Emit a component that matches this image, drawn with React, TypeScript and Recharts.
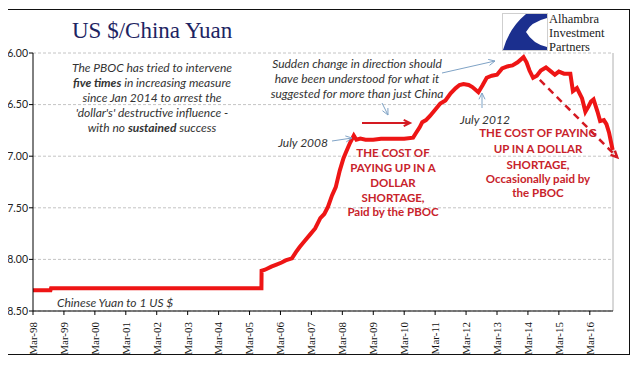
import React from 'react';
import { LineChart, Line, XAxis, YAxis, CartesianGrid, ReferenceLine } from 'recharts';

// daily-ish USD/CNY readings
const dates = [
  '1998-03-01', '1998-09-25', '1998-10-01', '2001-03-01', '2003-03-01', '2005-07-20', '2005-07-22',
  '2005-09-01', '2005-11-15', '2006-01-15', '2006-03-15', '2006-05-01', '2006-07-15', '2006-09-01',
  '2006-10-15', '2006-12-15', '2007-02-15', '2007-04-15', '2007-06-15', '2007-08-01', '2007-09-15',
  '2007-11-01', '2007-12-15', '2008-02-01', '2008-03-15', '2008-04-15', '2008-06-01', '2008-07-15',
  '2008-08-15', '2008-10-01', '2008-12-01', '2009-03-01', '2009-06-01', '2009-09-01', '2009-12-01',
  '2010-03-01', '2010-06-15', '2010-07-15', '2010-09-01', '2010-10-01', '2010-11-15', '2011-01-01',
  '2011-03-01', '2011-05-01', '2011-07-01', '2011-09-01', '2011-11-01', '2011-12-15', '2012-02-01',
  '2012-04-01', '2012-05-15', '2012-07-25', '2012-09-15', '2012-11-01', '2013-01-01', '2013-03-01',
  '2013-05-01', '2013-07-01', '2013-09-01', '2013-11-01', '2014-01-10', '2014-02-15', '2014-03-20',
  '2014-05-01', '2014-06-15', '2014-08-01', '2014-10-01', '2014-12-01', '2015-01-15', '2015-03-01',
  '2015-05-01', '2015-07-15', '2015-08-15', '2015-10-01', '2015-12-01', '2016-01-10', '2016-02-15',
  '2016-03-15', '2016-04-15', '2016-06-01', '2016-07-01', '2016-08-15', '2016-09-15', '2016-10-15',
  '2016-11-15', '2016-11-28',
];
const rates = [
  8.30, 8.30, 8.28, 8.28, 8.28, 8.28, 8.11,
  8.10, 8.07, 8.05, 8.03, 8.01, 7.99, 7.93,
  7.88, 7.82, 7.76, 7.70, 7.60, 7.56, 7.49,
  7.38, 7.30, 7.14, 7.02, 6.96, 6.87, 6.80,
  6.84, 6.83, 6.84, 6.84, 6.83, 6.83, 6.83,
  6.83, 6.82, 6.78, 6.72, 6.67, 6.65, 6.61,
  6.55, 6.49, 6.46, 6.39, 6.34, 6.31, 6.30,
  6.31, 6.33, 6.38, 6.31, 6.24, 6.22, 6.21,
  6.15, 6.13, 6.12, 6.09, 6.04, 6.09, 6.17,
  6.24, 6.22, 6.17, 6.14, 6.18, 6.21, 6.18,
  6.20, 6.20, 6.37, 6.34, 6.44, 6.57, 6.52,
  6.47, 6.45, 6.57, 6.66, 6.65, 6.69, 6.77,
  6.89, 6.94,
];

const yTicks = [6, 6.5, 7, 7.5, 8, 8.5];
const tickYears = ['98', '99', '00', '01', '02', '03', '04', '05', '06', '07', '08', '09', '10', '11', '12', '13', '14', '15', '16'];

// dashed "trend" arrow, in data terms (date, rate)
const trendStart = { date: '2014-07-20', rate: 6.26 };
const trendEnd = { date: '2017-01-20', rate: 7.01 };

// months since Mar-98
const monthIndex = (d: string) => {
  const [y, m, day] = d.split('-').map(Number);
  return (y - 1998) * 12 + (m - 3) + (day - 1) / 31;
};

const data = dates.map((d, i) => ({ t: monthIndex(d), rate: rates[i] }));
const xTicks = tickYears.map((_, i) => i * 12);

const sans = 'Lato, "Open Sans", sans-serif';
const serif = '"Liberation Serif", "Times New Roman", serif';
const blue = '#7fa3c6';
const red = '#c8232b';

const XTick = ({ x, y, payload }: any) => (
  <g transform={`translate(${x},${y + 5})`}>
    <text transform="rotate(-90)" textAnchor="end" dy="0.35em" fontFamily={serif} fontSize={11} fill="#111">
      {`Mar-${tickYears[Math.round(payload.value / 12)]}`}
    </text>
  </g>
);

const Arrow = ({ x1, y1, x2, y2, color, width = 1, dash }: any) => {
  const a = Math.atan2(y2 - y1, x2 - x1);
  const h = 7;
  const p1 = [x2 - h * Math.cos(a - 0.45), y2 - h * Math.sin(a - 0.45)];
  const p2 = [x2 - h * Math.cos(a + 0.45), y2 - h * Math.sin(a + 0.45)];
  return (
    <g>
      <line x1={x1} y1={y1} x2={x2} y2={y2} stroke={color} strokeWidth={width} strokeDasharray={dash} />
      <polyline points={`${p1[0]},${p1[1]} ${x2},${y2} ${p2[0]},${p2[1]}`} fill="none" stroke={color} strokeWidth={width} />
    </g>
  );
};

const TrendShape = (props: any) => (
  <Arrow x1={props.x1} y1={props.y1} x2={props.x2} y2={props.y2} color="#d41a22" width={2.5} dash="7 5" />
);

export default function App() {
  return (
    <div style={{ position: 'relative', width: 640, height: 380, margin: -8, background: '#fff' }}>
      <LineChart
        width={640}
        height={380}
        data={data}
        margin={{ top: 53, right: 27, bottom: 19, left: 0 }}
        style={{ position: 'absolute', left: 0, top: 0 }}
      >
        <CartesianGrid vertical={false} stroke="#c4c4c4" strokeDasharray="3 2" />
        <ReferenceLine x={225} stroke="#b0b0b0" />
        <XAxis
          type="number"
          dataKey="t"
          domain={[0, 225]}
          ticks={xTicks}
          interval={0}
          height={50}
          tick={<XTick />}
          tickSize={4}
          axisLine={{ stroke: '#000' }}
          tickLine={{ stroke: '#000' }}
        />
        <YAxis
          type="number"
          reversed
          domain={[6, 8.5]}
          ticks={yTicks}
          width={33}
          tickSize={4}
          tickMargin={1}
          tickFormatter={(v: number) => v.toFixed(2)}
          tick={{ fontFamily: sans, fontSize: 10.5, fill: '#222' }}
          axisLine={{ stroke: '#000' }}
          tickLine={{ stroke: '#000' }}
        />
        <Line
          type="linear"
          dataKey="rate"
          stroke="#ee1515"
          strokeWidth={4}
          dot={false}
          isAnimationActive={false}
        />
        <ReferenceLine
          segment={[
            { x: monthIndex(trendStart.date), y: trendStart.rate },
            { x: monthIndex(trendEnd.date), y: trendEnd.rate },
          ]}
          ifOverflow="visible"
          shape={TrendShape}
        />
      </LineChart>

      <svg width={640} height={380} style={{ position: 'absolute', left: 0, top: 0, pointerEvents: 'none' }}>
        <rect x={3.5} y={9.5} width={626} height={345} fill="none" stroke="#111" />

        <text x={72} y={38} fontFamily={serif} fontSize={23} fill="#1d2462">US $/China Yuan</text>

        {/* logo */}
        <rect x={502.5} y={13.5} width={45} height={37} fill="#fff" stroke="#cfcfcf" />
        <path d="M526,14 L547,14 L547,18 Q531,22 526,32 Q533,44 547,47 L547,50 L503,50 Q509,28 526,14 Z" fill="#1b2f8e" />
        <g fontFamily={serif} fontSize={12.5} fill="#222">
          <text x={549} y={23}>Alhambra</text>
          <text x={549} y={37}>Investment</text>
          <text x={549} y={51}>Partners</text>
        </g>

        <g fontFamily={sans} fontSize={12} fontStyle="italic" fill="#333" textAnchor="middle">
          <text x={152} y={72}>The PBOC has tried to intervene</text>
          <text x={152} y={87}><tspan fontWeight="bold">five times</tspan> in increasing measure</text>
          <text x={152} y={102}>since Jan 2014 to arrest the</text>
          <text x={152} y={117}>'dollar's' destructive influence -</text>
          <text x={152} y={132}>with no <tspan fontWeight="bold">sustained</tspan> success</text>

          <text x={357} y={68}>Sudden change in direction should</text>
          <text x={357} y={83}>have been understood for what it</text>
          <text x={357} y={98}>suggested for more than just China</text>

          <text x={328} y={147} textAnchor="end">July 2008</text>
          <text x={460} y={124} textAnchor="start">July 2012</text>
          <text x={57} y={307} textAnchor="start">Chinese Yuan to 1 US $</text>
        </g>

        <Arrow x1={442} y1={73} x2={495} y2={61} color={blue} />
        <Arrow x1={382} y1={103} x2={388} y2={115} color={blue} />
        <Arrow x1={332} y1={141} x2={352} y2={138} color={blue} />
        <Arrow x1={482} y1={108} x2={482} y2={93} color={blue} />
        <Arrow x1={362} y1={123} x2={410} y2={123} color="#d41a22" width={2} />

        <g fontFamily={sans} fontSize={11.5} fontWeight="bold" fill={red} textAnchor="middle">
          <text x={393} y={157}>THE COST OF</text>
          <text x={393} y={172}>PAYING UP IN A</text>
          <text x={393} y={187}>DOLLAR</text>
          <text x={393} y={202}>SHORTAGE,</text>
          <text x={393} y={216}>Paid by the PBOC</text>

          <text x={538} y={137}>THE COST OF PAYING</text>
          <text x={538} y={153}>UP IN A DOLLAR</text>
          <text x={538} y={169}>SHORTAGE,</text>
          <text x={538} y={183}>Occasionally paid by</text>
          <text x={538} y={197}>the PBOC</text>
        </g>
      </svg>
    </div>
  );
}
